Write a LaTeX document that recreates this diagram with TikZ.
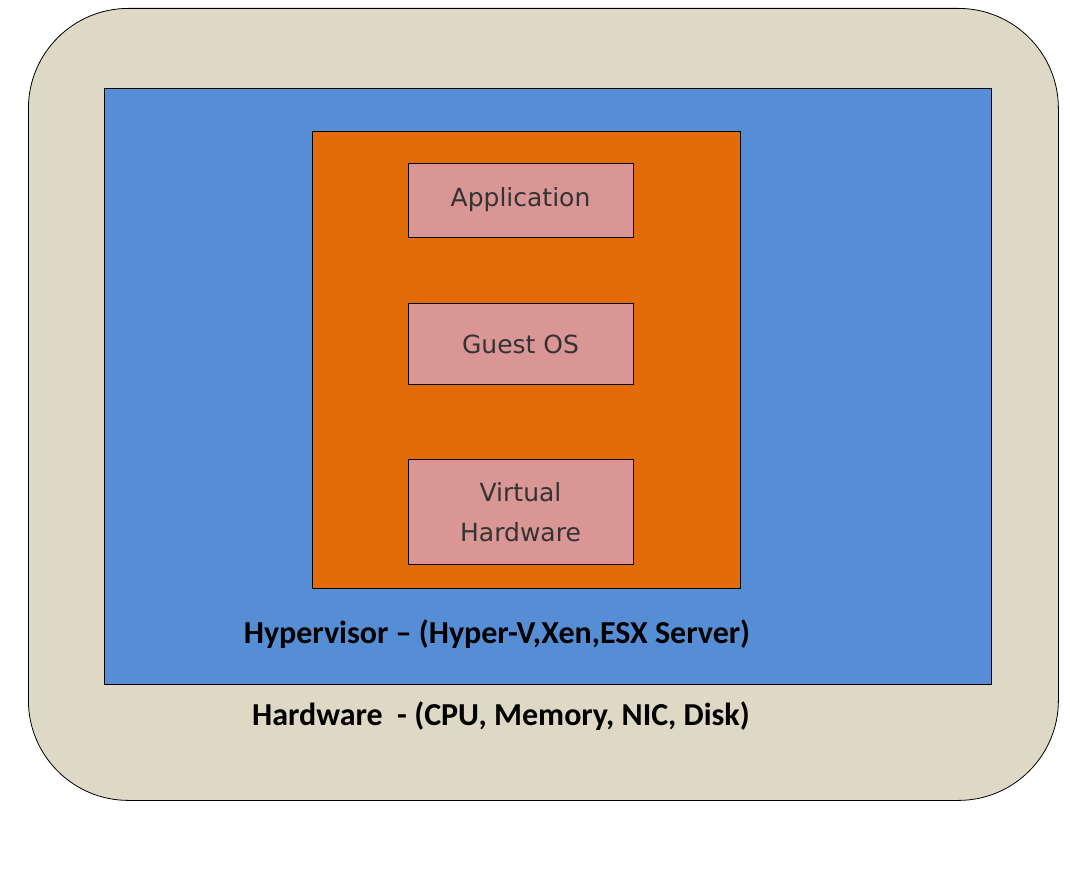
\documentclass[tikz,border=0pt]{standalone}
\usepackage{fontspec}
\setmainfont{Carlito}
\newfontfamily\boxfont{DejaVu Sans}
\begin{document}
\begin{tikzpicture}[x=1pt,y=-1pt]
      \tikzstyle{layer}=[draw=black, thick, anchor=north west, inner sep=0pt]
      \tikzstyle{part}=[draw=black, thick, fill=partpink, minimum width=225pt,
        align=center, font=\boxfont\fontsize{25}{40}\selectfont, text=black!80]
      \tikzstyle{caption}=[font=\bfseries\fontsize{32}{36}\selectfont]

      \definecolor{hwtan}{HTML}{DDD9C4}
      \definecolor{hvblue}{HTML}{558ED5}
      \definecolor{vmorange}{HTML}{E36C09}
      \definecolor{partpink}{HTML}{D99694}

      \useasboundingbox (0,0) rectangle (1070,875);
      \node[layer, fill=hwtan, rounded corners=100pt, minimum width=1030pt, minimum height=792pt] (hardware) at (28,8) {};
      \node[layer, fill=hvblue, minimum width=887pt, minimum height=596pt] (hypervisor) at (104,88) {};
      \node[layer, fill=vmorange, minimum width=428pt, minimum height=457pt] (vm) at (312,131) {};

      \node[part, minimum height=74pt] (app)   at (520.5,200) {Application};
      \node[part, minimum height=81pt] (guest) at (520.5,344) {Guest OS};
      \node[part, minimum height=105pt] (vhw)  at (520.5,512) {Virtual\\Hardware};

      \node[caption] (hvlabel) at (497,634) {Hypervisor -- (Hyper-V,Xen,ESX Server)};
      \node[caption] (hwlabel) at (501,716) {Hardware\ \ - (CPU, Memory, NIC, Disk)};
    \end{tikzpicture}
\end{document}
